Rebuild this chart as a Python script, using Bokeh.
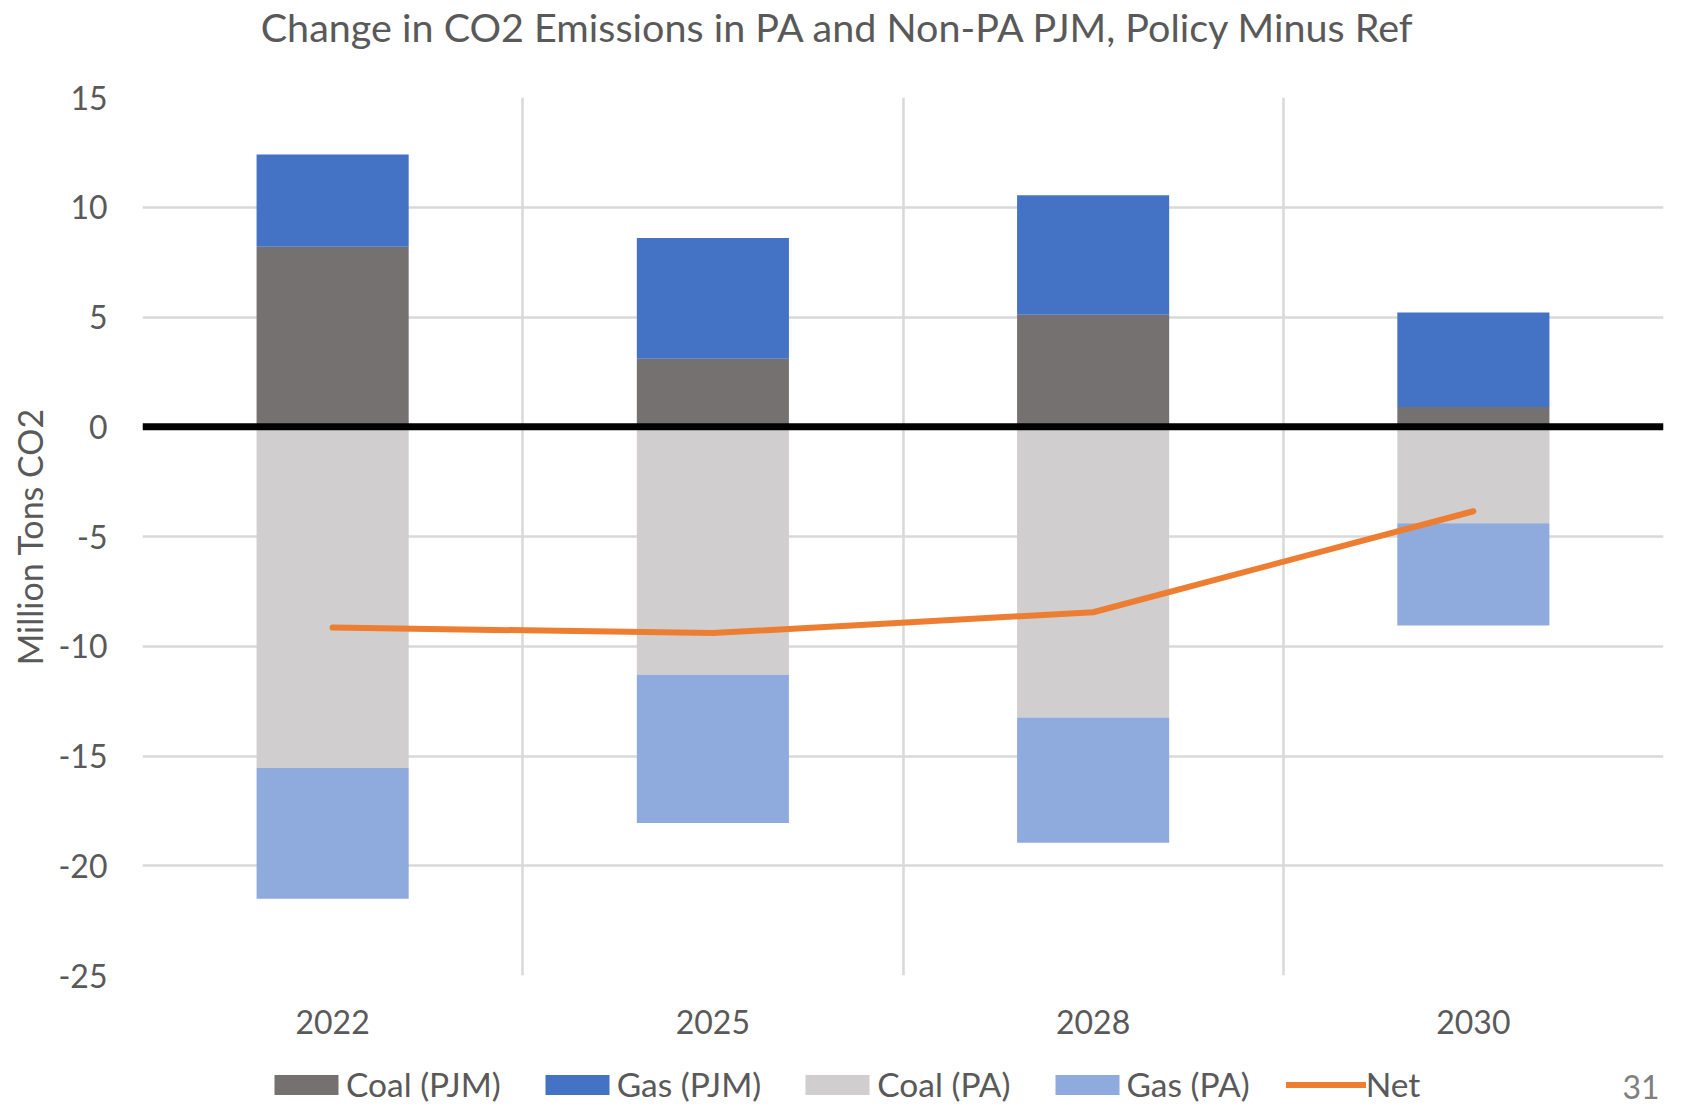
from bokeh.plotting import figure
from bokeh.layouts import column
from bokeh.models import (FactorRange, Range1d, Span, Legend, LegendItem, FixedTicker,
                          Label, ColumnDataSource)
from bokeh.embed import file_html
from bokeh.resources import INLINE

# ---- data (million tons CO2, Policy minus Ref) ----
years = ["2022", "2025", "2028", "2030"]
coal_pjm = [8.2, 3.1, 5.1, 0.9]
gas_pjm = [4.2, 5.5, 5.45, 4.3]
coal_pa = [-15.55, -11.3, -13.25, -4.4]
gas_pa = [-5.95, -6.75, -5.7, -4.65]
net = [-9.15, -9.4, -8.45, -3.85]
y_ticks = [-25, -20, -15, -10, -5, 0, 5, 10, 15]

title_text = "Change in CO2 Emissions in PA and Non-PA PJM, Policy Minus Ref"
y_label = "Million Tons CO2"
series_names = ["Coal (PJM)", "Gas (PJM)", "Coal (PA)", "Gas (PA)", "Net"]
colors = ["#767171", "#4472C4", "#D0CECE", "#8FAADC", "#ED7D31"]
page_number = "31"

FONT = "Lato"
TXT = "#595959"

src = ColumnDataSource(dict(years=years, coal_pjm=coal_pjm, gas_pjm=gas_pjm,
                            coal_pa=coal_pa, gas_pa=gas_pa, net=net))


def strip(h):
    f = figure(width=1665, height=h, output_backend="svg", toolbar_location=None,
               x_range=FactorRange(*years), y_range=Range1d(-25, 15),
               x_axis_type=None, y_axis_type=None,
               min_border_left=0, min_border_right=0, min_border_top=0, min_border_bottom=0)
    f.outline_line_color = None
    f.xgrid.visible = False
    f.ygrid.visible = False
    return f


# ---- title strip ----
top = strip(67)
top.add_layout(Label(x=696, y=41, x_units="screen", y_units="screen", text=title_text,
                     text_font=FONT, text_font_size="39.5px", text_color=TXT,
                     text_align="center", text_baseline="middle"))

# ---- main chart ----
p = figure(x_range=FactorRange(*years), y_range=Range1d(-25, 15),
           width=1665, height=978, output_backend="svg", toolbar_location=None,
           min_border_left=142, min_border_right=2,
           min_border_top=30, min_border_bottom=70)
p.outline_line_color = None

pos = p.vbar_stack(["coal_pjm", "gas_pjm"], x="years", width=0.4, source=src,
                   color=colors[0:2], line_color=None)
neg = p.vbar_stack(["coal_pa", "gas_pa"], x="years", width=0.4, source=src,
                   color=colors[2:4], line_color=None)
ln = p.line(x="years", y="net", source=src, line_color=colors[4], line_width=6,
            line_cap="round", line_join="round")

p.add_layout(Span(location=0, dimension="width", line_color="black", line_width=7))

p.ygrid.ticker = FixedTicker(ticks=y_ticks)
p.ygrid.grid_line_color = "#D9D9D9"
p.ygrid.grid_line_width = 2.5
p.xgrid.ticker = FixedTicker(ticks=[0, 1, 2, 3, 4])
p.xgrid.grid_line_color = "#D9D9D9"
p.xgrid.grid_line_width = 2.5

p.yaxis.ticker = FixedTicker(ticks=y_ticks)
p.yaxis.major_label_overrides = {t: str(t) for t in y_ticks}
p.yaxis.axis_label = y_label
p.yaxis.axis_label_text_font = FONT
p.yaxis.axis_label_text_font_size = "34px"
p.yaxis.axis_label_text_font_style = "normal"
p.yaxis.axis_label_text_color = TXT
p.yaxis.axis_label_standoff = 5
for ax in (p.xaxis, p.yaxis):
    ax.axis_line_color = None
    ax.major_tick_line_color = None
    ax.minor_tick_line_color = None
    ax.major_tick_out = 0
    ax.major_label_text_font = FONT
    ax.major_label_text_font_size = "32px"
    ax.major_label_text_color = TXT
p.yaxis.major_label_standoff = 35
p.xaxis.major_label_standoff = 34

# ---- legend strip (legend entries mirror the chart's series styles) ----
leg = strip(59)
lpos = leg.vbar_stack(["coal_pjm", "gas_pjm"], x="years", width=0.4, source=src,
                      color=colors[0:2], line_color=None, visible=False)
lneg = leg.vbar_stack(["coal_pa", "gas_pa"], x="years", width=0.4, source=src,
                      color=colors[2:4], line_color=None, visible=False)
lln = leg.line(x="years", y="net", source=src, line_color=colors[4], line_width=6,
               line_cap="round", visible=False)
swatches = [lpos[0], lpos[1], lneg[0], lneg[1], lln]
items = [LegendItem(label=n, renderers=[r]) for n, r in zip(series_names, swatches)]
legend = Legend(items=items, orientation="horizontal", location=(124, 0),
                glyph_width=80, glyph_height=25, label_standoff=0, spacing=36,
                padding=0, margin=0, border_line_color=None, background_fill_alpha=0,
                inactive_fill_alpha=0,
                label_text_font=FONT, label_text_font_size="33.5px", label_text_color=TXT)
leg.add_layout(legend, "center")
leg.add_layout(Label(x=1480, y=6, x_units="screen", y_units="screen", text=page_number,
                     text_font=FONT, text_font_size="32px", text_color="#7F7F7F",
                     text_baseline="bottom"))

layout = column(top, p, leg, spacing=0)
open("out.html", "w").write(file_html(layout, INLINE))
